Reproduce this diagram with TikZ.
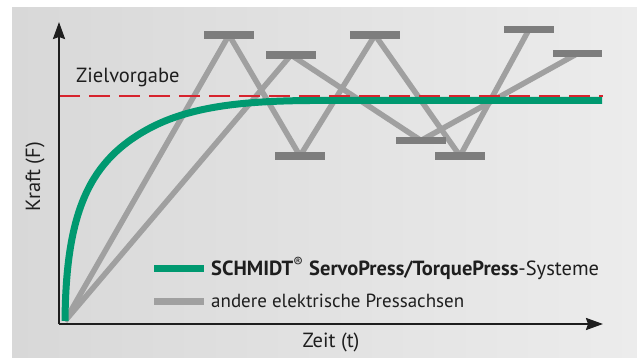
\documentclass[tikz,border=0pt]{standalone}
\usepackage{fontspec}
\setmainfont{PT Sans}
\usetikzlibrary{positioning,calc,arrows.meta}
\definecolor{schmidtgreen}{RGB}{0,153,112}
\definecolor{linegray}{RGB}{160,160,160}
\definecolor{bargray}{RGB}{125,125,125}
\definecolor{targetred}{RGB}{215,35,45}
\definecolor{textdark}{RGB}{30,30,30}
\tikzstyle{axis} = [line width=2.2pt,draw=textdark,-{Stealth[length=17pt,width=12pt,inset=2pt]}]
\tikzstyle{press} = [line width=5.5pt,linegray,line join=round]
\tikzstyle{servo} = [line width=7pt,schmidtgreen]
\tikzstyle{limit} = [rectangle,fill=bargray,minimum width=49pt,minimum height=7pt,inner sep=0pt]
\tikzstyle{label} = [font=\fontsize{20.5}{24}\selectfont,text=textdark,inner sep=0pt]

\begin{document}
\begin{tikzpicture}[x=1pt,y=-1pt]
    \useasboundingbox (0,0) rectangle (637,358);
    \shade[left color={rgb,255:red,216;green,216;blue,216},right color={rgb,255:red,236;green,236;blue,236}] (12,8) rectangle (637,358);

    \coordinate (origin) at (59,324);
    \coordinate (start) at (65,321);
    % limit bars of the other presses
    \node[limit](a_1) at (229,35){};
    \node[limit](a_2) at (300,156){};
    \node[limit](a_3) at (375,35){};
    \node[limit](a_4) at (460,156){};
    \node[limit](a_5) at (529,29.5){};
    \node[limit](b_1) at (291,55){};
    \node[limit](b_2) at (421,140.5){};
    \node[limit](b_3) at (577.5,53.5){};
    \draw[press] (start) -- (a_1.center) -- (a_2.center) -- (a_3.center) -- (a_4.center) -- (a_5.center);
    \draw[press] (start) -- (b_1.center) -- (b_2.center) -- (b_3.center);
    \foreach \n in {a_1,a_2,a_3,a_4,a_5,b_1,b_2,b_3}
        \fill[bargray] (\n.south west) rectangle (\n.north east);

    % servo press curve and target
    \coordinate (plateau) at (602,100.5);
    \draw[servo] (start) .. controls (66,210) and (90,160) .. (150,128)
        .. controls (190,107) and (240,101) .. (310,100.5) -- (plateau);
    \node[label,anchor=base west](target) at (76,83){Zielvorgabe};
    \coordinate (target_end) at (603,96);
    \draw[targetred,line width=1.6pt,dash pattern=on 21pt off 9pt] (59,96) -- (target_end);

    % axes
    \coordinate (y_tip) at (59,22);
    \coordinate (x_tip) at (603,324);
    \draw[axis] (origin) -- (y_tip);
    \draw[axis] (origin) -- (x_tip);
    \node[label,rotate=90](y_label) at (35,177){Kraft (F)};
    \node[label](x_label) at (331,342){Zeit (t)};

    % legend
    \coordinate (leg_g) at (154,268);
    \coordinate (leg_p) at (154,301);
    \draw[servo] (leg_g) -- ++(50,0);
    \draw[press,line width=7pt] (leg_p) -- ++(50,0);
    \node[label,anchor=base west](leg_servo) at (211,275){\textbf{SCHMIDT}\textsuperscript{®} \textbf{ServoPress/TorquePress}-Systeme};
    \node[label,font=\fontsize{19}{22}\selectfont,anchor=base west](leg_press) at (211,307){andere elektrische Pressachsen};
\end{tikzpicture}
\end{document}
